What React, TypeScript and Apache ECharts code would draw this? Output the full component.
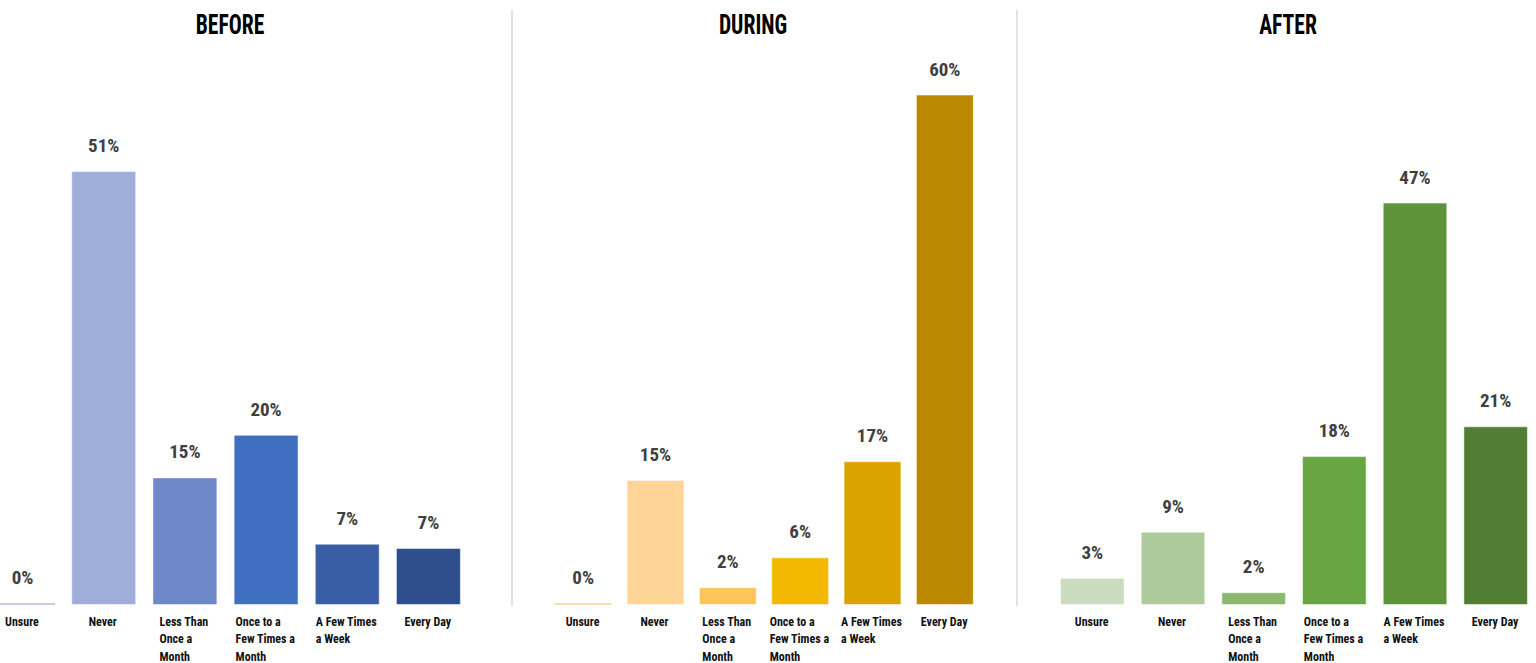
import React, { useEffect, useRef } from "react";
import * as echarts from "echarts";

const categories = [
  "Unsure",
  "Never",
  "Less Than\nOnce a\nMonth",
  "Once to a\nFew Times a\nMonth",
  "A Few Times\na Week",
  "Every Day",
];
const panelTitles = ["BEFORE", "DURING", "AFTER"];
const beforeValues = [0, 51, 15, 20, 7.2, 6.7];
const duringValues = [0, 14.7, 2.1, 5.6, 16.9, 60];
const afterValues = [3.2, 8.6, 1.5, 17.5, 47.3, 21];

const beforeColors = ["#c3cdea", "#9faed9", "#6e88c9", "#416fbf", "#395ea6", "#2e4f8b"];
const duringColors = ["#fcdcb0", "#fed497", "#fdc55a", "#f3b800", "#dba300", "#bb8a00"];
const afterColors = ["#c9dcc0", "#adca9c", "#8ab86f", "#69a543", "#5e933b", "#517e33"];

const FONT = "'Roboto Condensed', 'DejaVu Sans Condensed', sans-serif";
const SHIFT = 18;

export default function App() {
  const ref = useRef<HTMLDivElement>(null);
  useEffect(() => {
    document.body.style.margin = "0";
    const chart = echarts.init(ref.current!, null, { renderer: "svg" });

    const ctx = document.createElement("canvas").getContext("2d")!;
    ctx.font = `bold 12px ${FONT}`;
    const rich: Record<string, any> = {};
    categories.forEach((c, i) => {
      const w = Math.max(...c.split("\n").map((l) => ctx.measureText(l).width));
      rich["k" + i] = {
        width: Math.ceil(w) + 1,
        align: "left",
        fontSize: 12,
        fontWeight: "bold",
        fontFamily: FONT,
        color: "#111",
        lineHeight: 17.5,
      };
    });
    const fmt = (v: string, i: number) =>
      v
        .split("\n")
        .map((l) => `{k${i}|${l}}`)
        .join("\n");

    const grids = [
      { left: -18 + SHIFT, width: 487, top: 52, bottom: 58 },
      { left: 547 + SHIFT, width: 434, top: 52, bottom: 58 },
      { left: 1052 + SHIFT, width: 487, top: 52, bottom: 58 },
    ];
    const valueSets = [beforeValues, duringValues, afterValues];
    const colorSets = [beforeColors, duringColors, afterColors];
    const titleCenters = [230, 753, 1288];

    chart.setOption({
      animation: false,
      grid: grids,
      xAxis: grids.map((_, i) => ({
        type: "category",
        gridIndex: i,
        data: categories,
        axisLine: { show: false },
        axisTick: { show: false },
        axisLabel: {
          interval: 0,
          margin: 8,
          align: "center",
          formatter: fmt,
          rich,
        },
      })),
      yAxis: grids.map((_, i) => ({
        type: "value",
        gridIndex: i,
        min: 0,
        max: 65,
        show: false,
        splitLine: { show: false },
      })),
      series: valueSets.map((vals, i) => ({
        type: "bar",
        xAxisIndex: i,
        yAxisIndex: i,
        barCategoryGap: "20%",
        barMinHeight: 2,
        data: vals.map((v, j) => ({
          value: v,
          itemStyle: {
            color: colorSets[i][j],
            borderColor: v > 0 ? "rgba(255,255,255,0.5)" : colorSets[i][j],
            borderWidth: v > 0 ? 1 : 0,
          },
        })),
        label: {
          show: true,
          position: "top",
          distance: 16,
          formatter: (p: any) => Math.round(p.value) + "%",
          fontFamily: FONT,
          fontWeight: "bold",
          fontSize: 19,
          color: "#404040",
        },
      })),
      graphic: [
        ...panelTitles.map((t, i) => ({
          type: "text",
          x: titleCenters[i] + SHIFT,
          y: 11,
          scaleX: 0.8,
          style: {
            text: t,
            align: "center",
            verticalAlign: "top",
            fontFamily: FONT,
            fontWeight: "bold",
            fontSize: 27,
            fill: "#000",
          },
        })),
        {
          type: "line",
          shape: { x1: 512 + SHIFT, y1: 10, x2: 512 + SHIFT, y2: 606 },
          style: { stroke: "#e2e2e2", lineWidth: 2 },
        },
        {
          type: "line",
          shape: { x1: 1017 + SHIFT, y1: 10, x2: 1017 + SHIFT, y2: 606 },
          style: { stroke: "#e2e2e2", lineWidth: 2 },
        },
      ],
    });
    return () => chart.dispose();
  }, []);
  return (
    <div
      ref={ref}
      style={{
        position: "fixed",
        left: -SHIFT,
        top: 0,
        width: 1536 + SHIFT,
        height: 663,
        background: "#fff",
      }}
    />
  );
}
